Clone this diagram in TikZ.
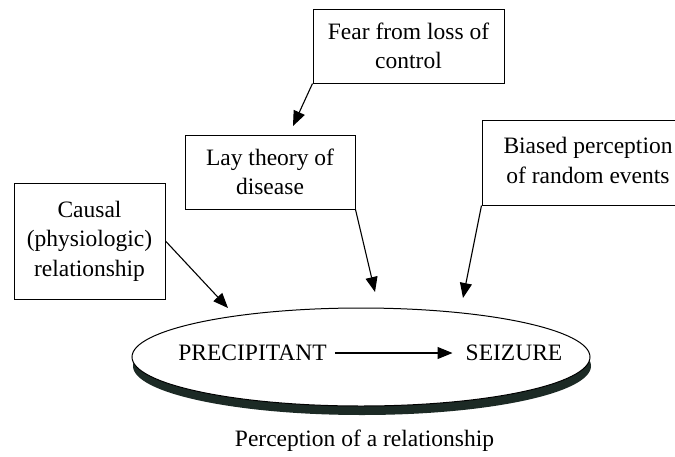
\documentclass[tikz,border=0pt]{standalone}
\usepackage{fontspec}
\setmainfont{Liberation Serif}
\usetikzlibrary{positioning,arrows.meta,shapes.geometric}
\definecolor{ellshadow}{HTML}{1C2A25}

\begin{document}
\begin{tikzpicture}[x=1pt,y=-1pt,
      box/.style={draw,line width=1pt,inner sep=0pt,align=center,
        font=\fontsize{23.5}{29.5}\selectfont},
      lbl/.style={inner sep=0pt,font=\fontsize{23.5}{29.5}\selectfont},
      arr/.style={-{Triangle[length=15pt,width=12pt]},line width=1.1pt}]

    \clip (0,0) rectangle (675,456);
    \fill[white] (0,0) rectangle (675,456);

    % boxes
    \node[box,minimum width=191,minimum height=74] (fear) at (408.5,46)
      {Fear from loss of\\control};
    \node[box,minimum width=170,minimum height=74] (lay) at (270,172)
      {Lay theory of\\disease};
    \node[box,minimum width=151,minimum height=116] (causal) at (89.5,241)
      {Causal\\(physiologic)\\relationship};
    % right side runs off the page
    \node[box,align=none,minimum width=240,minimum height=85] (biased) at (602,162.5)
      {\begin{tabular}{@{}c@{}}Biased perception\\of random events\end{tabular}\hspace*{28pt}};

    % ellipse with shadow
    \fill[ellshadow] (362,366) ellipse [x radius=229,y radius=49];
    \node[draw,ellipse,fill=white,line width=1pt,minimum width=458,
      minimum height=98,inner sep=0pt] (ell) at (361,357) {};

    \node[lbl] (prec) at (252.5,353) {PRECIPITANT};
    \node[lbl] (seiz) at (514,353) {SEIZURE};
    \draw[arr] ([xshift=8]prec.east) -- ([xshift=-13]seiz.west);

    \node[lbl] (cap) at (364.5,441) {Perception of a relationship};

    % arrow ends
    \coordinate (t1) at (293,126);
    \coordinate (t2) at (375,292);
    \coordinate (t3) at (463,298);
    \coordinate (t4) at (228,308);

    \draw[arr] (fear.south west) -- (t1);
    \draw[arr] (lay.south east) -- (t2);
    \draw[arr] (biased.south west) -- (t3);
    \draw[arr] (causal.east) -- (t4);
  \end{tikzpicture}
\end{document}
